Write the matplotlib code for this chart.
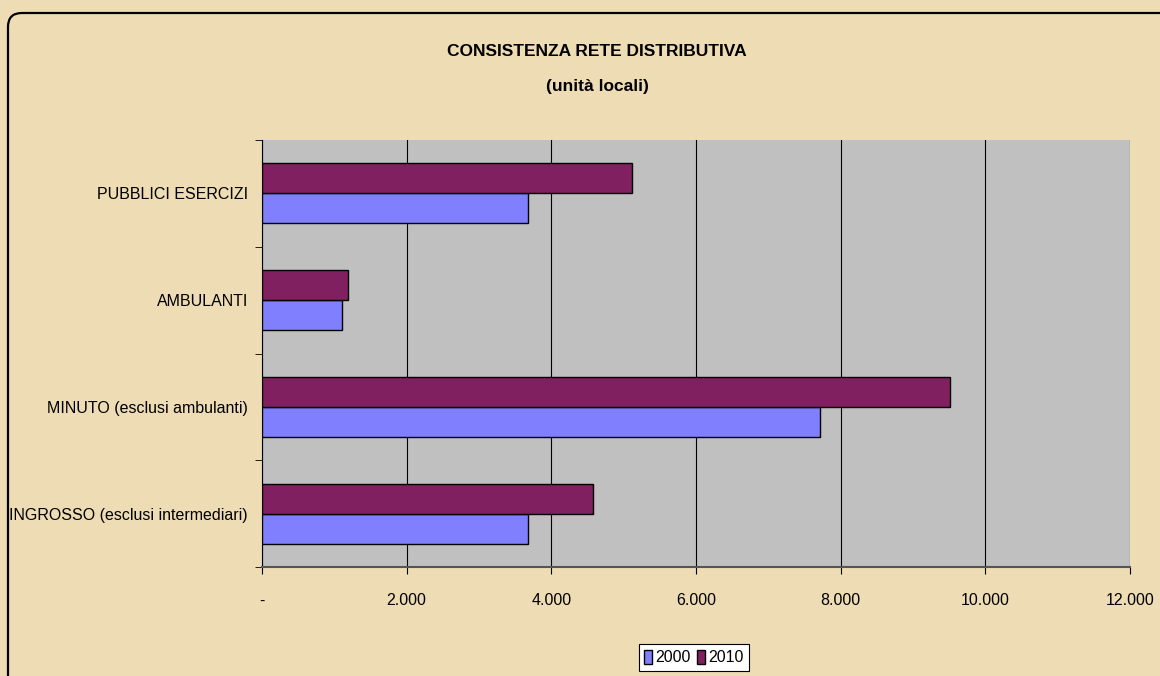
import matplotlib
matplotlib.use("Agg")
import matplotlib.pyplot as plt
from matplotlib.patches import FancyBboxPatch, Patch
from matplotlib.ticker import FuncFormatter, FixedLocator

CATEGORIES = ["INGROSSO (esclusi intermediari)", "MINUTO (esclusi ambulanti)",
              "AMBULANTI", "PUBBLICI ESERCIZI"]
VALUES_2000 = [3680, 7710, 1100, 3680]
VALUES_2010 = [4580, 9510, 1190, 5115]
SERIES = ["2000", "2010"]
COLORS = ["#8080FF", "#802060"]

FONT = ["Liberation Sans", "DejaVu Sans"]
plt.rcParams["font.family"] = FONT

fig = plt.figure(figsize=(11.6, 6.76), dpi=100)
fig.patch.set_facecolor("#EEDCB4")

# rounded frame round the chart area
frame = FancyBboxPatch((8 / 1160, -0.05), 1.2, 1 - 13 / 676 + 0.05,
                       boxstyle="round,pad=0,rounding_size=0.012",
                       transform=fig.transFigure, facecolor="none",
                       edgecolor="black", linewidth=1.6, mutation_aspect=1160 / 676)
fig.patches.append(frame)

ax = fig.add_axes([262 / 1160, 1 - 567 / 676, 868 / 1160, 427 / 676])
ax.set_facecolor("#C0C0C0")

pos = list(range(len(CATEGORIES)))
h = 0.28
ax.barh([p - h / 2 for p in pos], VALUES_2000, height=h, color=COLORS[0],
        edgecolor="black", linewidth=1, zorder=3)
ax.barh([p + h / 2 for p in pos], VALUES_2010, height=h, color=COLORS[1],
        edgecolor="black", linewidth=1, zorder=3)

ax.set_xlim(0, 12000)
ax.set_ylim(-0.5, len(CATEGORIES) - 0.5)
ax.xaxis.set_major_locator(FixedLocator(range(0, 12001, 2000)))
ax.xaxis.set_major_formatter(FuncFormatter(
    lambda v, p: "-" if v == 0 else "{:,.0f}".format(v).replace(",", ".")))
ax.grid(axis="x", color="black", linewidth=0.8, zorder=1)

ax.set_yticks(pos)
ax.set_yticklabels(CATEGORIES)
ax.yaxis.set_minor_locator(FixedLocator([p + 0.5 for p in [-1] + pos]))
ax.tick_params(axis="y", which="major", length=0, pad=10, labelsize=11.5)
ax.tick_params(axis="y", which="minor", length=5, direction="out")
ax.tick_params(axis="x", length=5, direction="out", pad=14, labelsize=11.5)

for s in ["top", "right"]:
    ax.spines[s].set_visible(False)
ax.spines["left"].set_color("black")
ax.spines["bottom"].set_color("#555555")
ax.spines["bottom"].set_linewidth(1.5)

fig.text(597 / 1160, 1 - 52 / 676, "CONSISTENZA RETE DISTRIBUTIVA", ha="center",
         va="center", fontsize=12.5, fontweight="bold")
fig.text(597 / 1160, 1 - 87 / 676, "(unità locali)", ha="center",
         va="center", fontsize=12.5, fontweight="bold")

handles = [Patch(facecolor=c, edgecolor="black", label=s) for s, c in zip(SERIES, COLORS)]
leg = fig.legend(handles=handles, loc="upper center", bbox_to_anchor=(694 / 1160, 1 - 636 / 676),
                 ncol=2, fontsize=11.5, handlelength=0.5, handleheight=1.0,
                 handletextpad=0.2, columnspacing=0.4, borderpad=0.35,
                 fancybox=False, framealpha=1, edgecolor="black")
leg.get_frame().set_linewidth(0.8)

fig.savefig("out.png", dpi=100, facecolor=fig.get_facecolor())
